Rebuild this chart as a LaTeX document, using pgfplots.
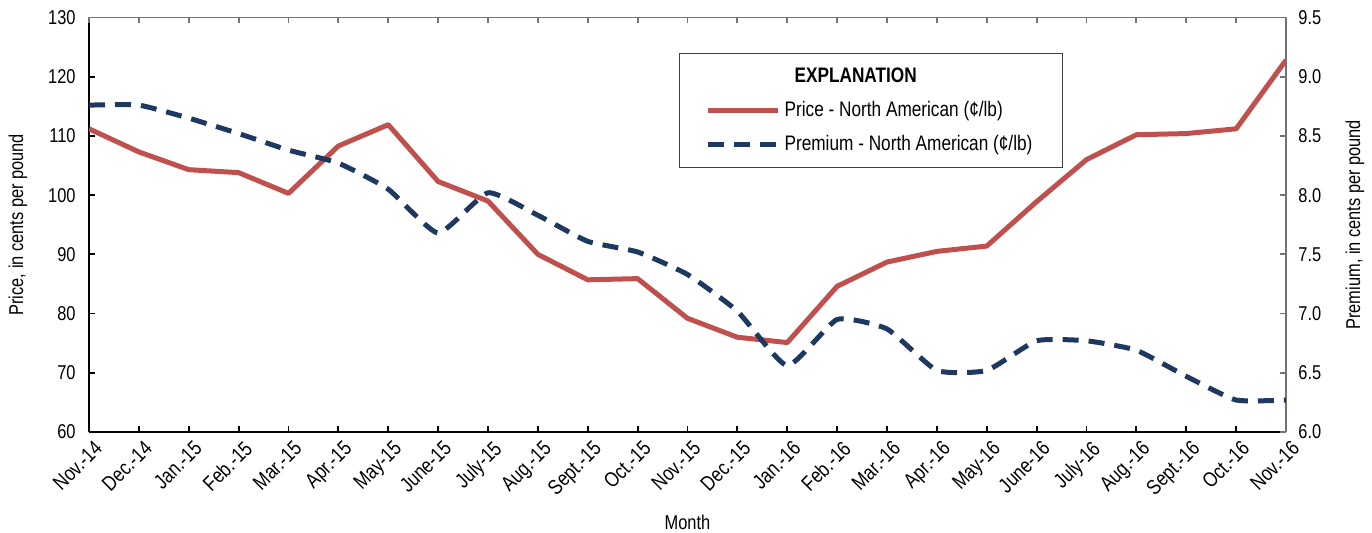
\documentclass[border=0pt]{standalone}
\usepackage{fontspec}
\setmainfont{Liberation Sans}[FakeStretch=0.82]
\usepackage{pgfplots}
\pgfplotsset{compat=1.18}
\definecolor{pricered}{RGB}{192,80,77}
\definecolor{premnavy}{RGB}{31,56,96}

\pgfplotstableread{
idx price premium
0  111.2 8.76
1  107.3 8.76
2  104.3 8.65
3  103.8 8.52
4  100.3 8.38
5  108.3 8.27
6  111.9 8.05
7  102.3 7.68
8   99.0 8.02
9   90.0 7.83
10  85.7 7.61
11  85.9 7.52
12  79.2 7.33
13  76.0 7.02
14  75.1 6.56
15  84.6 6.95
16  88.7 6.87
17  90.5 6.52
18  91.4 6.52
19  98.9 6.77
20 106.0 6.77
21 110.2 6.69
22 110.4 6.47
23 111.2 6.27
24 122.8 6.27
}\datatable

\pgfplotsset{
  commonaxis/.style={
    scale only axis, width=598.5pt, height=207.25pt,
    xmin=0, xmax=24, xtick={0,...,24},
    tick align=inside, major tick length=3pt,
    tick label style={font=\fontsize{10}{12}\selectfont},
    /pgf/number format/assume math mode=true,
    label style={font=\fontsize{10.5}{12}\selectfont},
  },
  pricestyle/.style={pricered, line width=2.5pt, line join=round},
  premstyle/.style={premnavy, line width=2.5pt, dash pattern=on 8pt off 5pt, line join=round},
}

\begin{document}
\begin{tikzpicture}
\useasboundingbox (-44.5pt,-50.5pt) rectangle (641.5pt,216pt);
\begin{axis}[
  commonaxis,
  axis x line*=bottom, axis y line*=left,
  axis line style={black, line width=0.9pt},
  tick style={black, line width=0.9pt},
  ymin=60, ymax=130, ytick={60,70,...,130},
  xticklabels={Nov.-14,Dec.-14,Jan.-15,Feb.-15,Mar.-15,Apr.-15,May-15,June-15,July-15,Aug.-15,Sept.-15,Oct.-15,Nov.-15,Dec.-15,Jan.-16,Feb.-16,Mar.-16,Apr.-16,May-16,June-16,July-16,Aug.-16,Sept.-16,Oct.-16,Nov.-16},
  xticklabel style={rotate=45, anchor=north east, inner sep=1pt, yshift=-3pt,
    font=\fontsize{10.5}{12}\selectfont},
  yticklabel style={anchor=east, inner sep=0pt, xshift=-6.5pt},
  xlabel={Month},
  ylabel={Price, in cents per pound},
  every axis x label/.style={at={(axis description cs:0.5,-0.217)}, anchor=center},
  every axis y label/.style={at={(axis description cs:-0.0593,0.5)}, rotate=90, anchor=center},
  legend style={at={(axis description cs:0.4929,0.9144)}, anchor=north west,
    draw=black!75, line width=0.6pt, inner xsep=13pt, inner ysep=5pt,
    font=\fontsize{10.5}{12}\selectfont, row sep=4pt,
    /tikz/every even column/.append style={column sep=3pt}},
  legend cell align=left,
  legend image code/.code={\draw[#1] (0pt,0pt) -- (35pt,0pt);},
]
\addlegendimage{empty legend}
\addlegendentry{\hspace*{5pt}\textbf{EXPLANATION}}
\addplot[pricestyle] table[x=idx, y=price] {\datatable};
\addlegendentry{Price - North American (¢/lb)}
\addlegendimage{premstyle}
\addlegendentry{Premium - North American (¢/lb)}
\end{axis}
\begin{axis}[
  commonaxis,
  axis x line*=top, axis y line*=right,
  axis line style={black!55, line width=0.9pt},
  tick style={black!55, line width=0.9pt},
  xticklabels={},
  ymin=6, ymax=9.5, ytick={6,6.5,...,9.5},
  yticklabel style={anchor=west, inner sep=0pt, xshift=6pt,
    /pgf/number format/.cd, fixed, fixed zerofill, precision=1},
  ylabel={Premium, in cents per pound},
  every axis y label/.style={at={(axis description cs:1.0576,0.5)}, rotate=90, anchor=center},
]
\addplot[premstyle, smooth, tension=0.3] table[x=idx, y=premium] {\datatable};
\end{axis}
\end{tikzpicture}
\end{document}
